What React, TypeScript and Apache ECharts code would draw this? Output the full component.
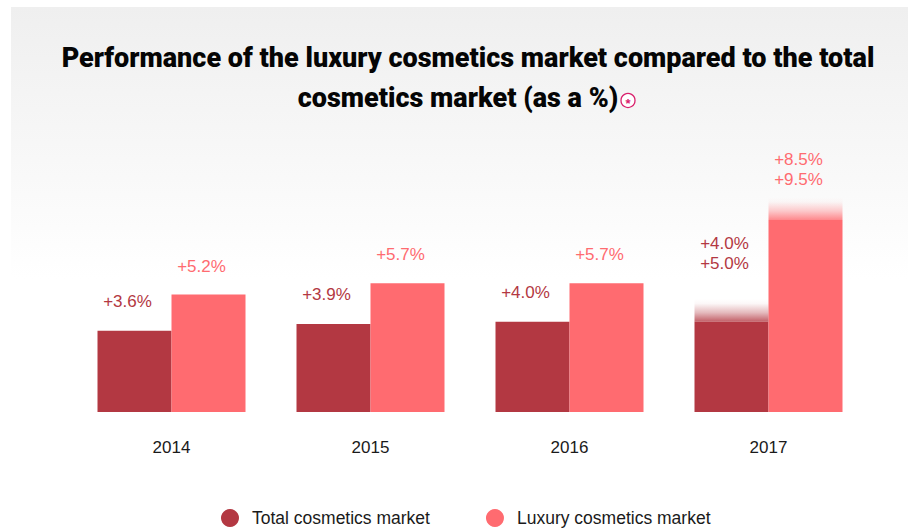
import React, { useEffect, useRef } from "react";
import * as echarts from "echarts";

const years = ["2014", "2015", "2016", "2017"];
const totalValues = [3.6, 3.9, 4.0, 4.0];
const luxuryValues = [5.2, 5.7, 5.7, 8.5];
const totalHigh = [null, null, null, 5.0];
const luxuryHigh = [null, null, null, 9.5];
const totalName = "Total cosmetics market";
const luxuryName = "Luxury cosmetics market";
const titleLine1 = "Performance of the luxury cosmetics market compared to the total";
const titleLine2 = "cosmetics market (as a %)";

const DARK = "#b33842";
const LIGHT = "#ff6b70";
const DARK_RGB = "179,56,66";
const LIGHT_RGB = "255,107,112";
const FONT = "Liberation Sans";
const TITLE_FONT = "Roboto";

const fmt = (v: number) => "+" + v.toFixed(1) + "%";

export default function App() {
  const ref = useRef<HTMLDivElement>(null);
  useEffect(() => {
    const chart = echarts.init(ref.current!, null, { renderer: "svg" });

    const baseSeries = (name: string, vals: number[], highs: (number | null)[], color: string, stack: string, dist: number) => ({
      name,
      type: "bar",
      stack,
      barWidth: 74,
      barGap: "0%",
      itemStyle: { color },
      data: vals.map((v, i) => ({
        value: v,
        label: {
          show: highs[i] == null,
          position: "top",
          distance: dist,
          offset: [-7, 0],
          formatter: fmt(v),
          color,
          fontSize: 17,
          fontFamily: FONT,
        },
      })),
    });

    const fadeSeries = (name: string, vals: number[], highs: (number | null)[], color: string, rgb: string, stack: string, dist: number) => ({
      name,
      type: "bar",
      stack,
      barWidth: 74,
      barGap: "0%",
      data: vals.map((v, i) => {
        const h = highs[i];
        return {
          value: h == null ? 0 : h - v,
          itemStyle: {
            color: new echarts.graphic.LinearGradient(0, 0, 0, 1, [
              { offset: 0, color: `rgba(${rgb},0)` },
              { offset: 0.2, color: `rgba(${rgb},0.04)` },
              { offset: 0.6, color: `rgba(${rgb},0.35)` },
              { offset: 1, color: `rgba(${rgb},0.8)` },
            ]),
          },
          label: {
            show: h != null,
            position: "top",
            distance: dist,
            offset: [-7, 0],
            formatter: h == null ? "" : fmt(v) + "\n" + fmt(h),
            color,
            fontSize: 17,
            lineHeight: 20,
            fontFamily: FONT,
          },
        };
      }),
    });

    chart.setOption({
      animation: false,
      backgroundColor: "#ffffff",
      textStyle: { fontFamily: FONT },
      graphic: [
        {
          type: "rect",
          z: -10,
          silent: true,
          shape: { x: 11, y: 7, width: 897, height: 272 },
          style: {
            fill: new echarts.graphic.LinearGradient(0, 0, 0, 1, [
              { offset: 0, color: "#efefef" },
              { offset: 1, color: "#ffffff" },
            ]),
          },
        },
        {
          type: "text",
          x: 468,
          y: 58,
          style: {
            text: titleLine1,
            fontFamily: TITLE_FONT,
            fontWeight: 900,
            fontSize: 27,
            fill: "#050505",
            align: "center",
            verticalAlign: "middle",
          },
        },
        {
          type: "text",
          x: 458,
          y: 98,
          style: {
            text: titleLine2,
            fontFamily: TITLE_FONT,
            fontWeight: 900,
            fontSize: 27,
            fill: "#050505",
            align: "center",
            verticalAlign: "middle",
          },
        },
        {
          type: "circle",
          shape: { cx: 628, cy: 100.5, r: 7 },
          style: { fill: "#ffffff", stroke: "#d9206c", lineWidth: 1.3 },
        },
        {
          type: "text",
          x: 628,
          y: 103,
          style: {
            text: "*",
            fontFamily: FONT,
            fontWeight: 700,
            fontSize: 13,
            fill: "#d9206c",
            align: "center",
            verticalAlign: "middle",
          },
        },
      ],
      grid: { left: 72, right: 40, top: 141, bottom: 118 },
      legend: {
        data: [
          { name: totalName, icon: "circle", itemStyle: { color: DARK } },
          { name: luxuryName, icon: "circle", itemStyle: { color: LIGHT } },
        ],
        left: 221,
        top: 509,
        padding: 0,
        itemWidth: 18,
        itemHeight: 18,
        itemGap: 56,
        textStyle: { fontSize: 17.5, color: "#1a1a1a", fontFamily: FONT, padding: [0, 0, 0, 8] },
      },
      xAxis: {
        type: "category",
        data: years,
        axisLine: { show: false },
        axisTick: { show: false },
        axisLabel: { fontSize: 17, color: "#1a1a1a", margin: 27, fontFamily: FONT },
      },
      yAxis: {
        type: "value",
        min: 0,
        max: 12,
        show: false,
        splitLine: { show: false },
      },
      series: [
        baseSeries(totalName, totalValues, totalHigh, DARK, "t", 21),
        baseSeries(luxuryName, luxuryValues, luxuryHigh, LIGHT, "l", 20),
        fadeSeries(totalName + " range", totalValues, totalHigh, DARK, DARK_RGB, "t", 26),
        fadeSeries(luxuryName + " range", luxuryValues, luxuryHigh, LIGHT, LIGHT_RGB, "l", 8),
      ],
    });
    return () => chart.dispose();
  }, []);
  return <div ref={ref} style={{ position: "fixed", left: 0, top: 0, width: 908, height: 530 }} />;
}
